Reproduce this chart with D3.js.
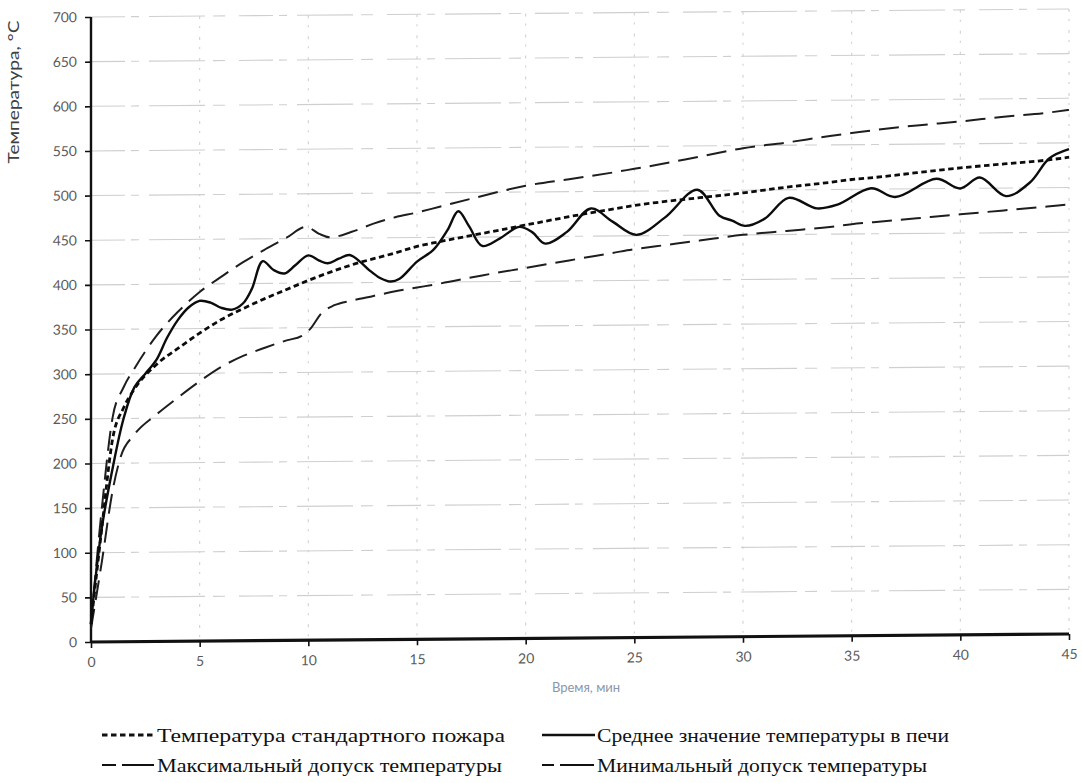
<!DOCTYPE html>
<html>
<head>
<meta charset="utf-8">
<script src="https://cdn.jsdelivr.net/npm/d3@7"></script>
<style>
  body { margin: 0; background: #fff; }
  svg { display: block; }
</style>
</head>
<body>
<svg id="chart" width="1082" height="783"></svg>
<script>
// Standard fire curve, °C vs. minutes
const standardTime = [0, 0.5, 1, 1.5, 2, 3, 4, 5, 6, 7, 8, 9, 10, 12, 14, 15, 16, 18, 20, 22, 24, 25, 26, 28, 30, 32, 34, 35, 36, 38, 40, 42, 44, 45];
const standardTemp = [20, 128, 228, 262, 283, 310, 328, 345, 360, 372, 383, 393, 403, 420, 433, 440, 445, 454, 463, 472, 480, 484, 487, 492, 497, 503, 508, 511, 513, 518, 523, 527, 531, 534];

// Mean furnace temperature
const meanTime = [0, 0.1, 0.5, 1, 1.5, 2, 2.5, 3, 3.5, 4, 4.5, 5, 5.5, 6, 6.5, 7, 7.4, 7.9, 8.4, 8.9, 9.4, 10, 10.5, 10.9, 11.4, 11.9, 12.4, 12.8, 13.3, 13.8, 14.2, 15, 15.75, 16.4, 16.9, 17.4, 18, 18.8, 19.7, 20.3, 20.9, 21.9, 23, 24, 25.1, 26.4, 27.9, 28.9, 29.5, 30.1, 31, 32.1, 33.4, 34.35, 35.9, 37, 38.9, 40, 40.9, 42.1, 43.2, 44.1, 45];
const meanTemp = [20, 47, 128, 195, 250, 285, 300, 315, 340, 360, 374, 381, 379, 373, 371, 378, 394, 425, 415, 411, 420, 431, 425, 422, 427, 431, 423, 414, 405, 401, 404, 423, 436, 458, 479, 462, 440, 448, 461, 455, 442, 455, 481, 466, 451, 470, 501, 472, 466, 460, 468, 491, 479, 483, 501, 491, 511, 500, 512, 491, 506, 533, 543];

// Upper tolerance
const maxTime = [0, 0.5, 1, 1.5, 2, 3, 4, 5, 6, 7, 8, 9, 9.9, 10.5, 11, 12, 13, 14, 15, 16, 18, 20, 22, 24, 25, 26, 28, 30, 32, 34, 35, 36, 38, 40, 42, 44, 45];
const maxTemp = [20, 150, 252, 285, 306, 342, 369, 391, 408, 424, 438, 451, 463, 455, 451, 457, 466, 473, 478, 484, 496, 507, 514, 521, 525, 529, 538, 547, 553, 560, 563, 566, 571, 575, 580, 584, 587];

// Lower tolerance
const minTime = [0, 0.5, 1, 1.35, 2, 3, 4, 5, 6, 7, 8, 9, 9.7, 10.1, 10.6, 11.2, 12, 13, 14, 15, 16, 18, 20, 22, 24, 25, 26, 28, 30, 32, 34, 35, 36, 38, 40, 42, 44, 45];
const minTemp = [15, 90, 170, 206, 232, 254, 273, 291, 307, 319, 328, 336, 341, 349, 366, 375, 380, 385, 390, 394, 398, 407, 415, 423, 431, 435, 438, 444, 450, 454, 458, 461, 463, 467, 471, 475, 479, 481];

const xTicks = [0, 5, 10, 15, 20, 25, 30, 35, 40, 45];
const yTicks = [0, 50, 100, 150, 200, 250, 300, 350, 400, 450, 500, 550, 600, 650, 700];

const legendLabels = [
  "Температура стандартного пожара",
  "Среднее значение температуры в печи",
  "Максимальный  допуск температуры",
  "Минимальный  допуск температуры"
];

const svg = d3.select("#chart");
const plotLeft = 91, plotRight = 1069, plotTop = 17, plotBottom = 642;

const x = d3.scaleLinear().domain([0, 45]).range([plotLeft, plotRight]);
const y = d3.scaleLinear().domain([0, 700]).range([plotBottom, plotTop]);

// the plot sits on a very slightly slanted baseline
const plot = svg.append("g")
  .attr("transform", `translate(${plotLeft},${plotBottom}) skewY(-0.47) translate(${-plotLeft},${-plotBottom})`);

// faint, broken grid
const grid = plot.append("g");
grid.selectAll("line.h").data(yTicks.filter(d => d > 0)).join("line")
  .attr("class", "h")
  .attr("x1", plotLeft).attr("x2", plotRight)
  .attr("y1", d => y(d)).attr("y2", d => y(d))
  .attr("stroke", "#cfcfcf").attr("stroke-width", 1.1)
  .attr("stroke-dasharray", "34,6,8,10,56,8,12,14");
grid.selectAll("line.v").data(xTicks.filter(d => d > 0)).join("line")
  .attr("class", "v")
  .attr("x1", d => x(d)).attr("x2", d => x(d))
  .attr("y1", plotTop).attr("y2", plotBottom)
  .attr("stroke", "#d0d0d0").attr("stroke-width", 1.1)
  .attr("stroke-dasharray", "3,7,2,9");

// axes
const yAxis = plot.append("g")
  .attr("transform", `translate(${plotLeft},0)`)
  .call(d3.axisLeft(y).tickValues(yTicks).tickSize(6).tickPadding(8).tickFormat(d3.format("d")));
const xAxis = plot.append("g")
  .attr("transform", `translate(0,${plotBottom})`)
  .call(d3.axisBottom(x).tickValues(xTicks).tickSize(6).tickPadding(9).tickFormat(d3.format("d")));

yAxis.select(".domain").attr("stroke", "#111").attr("stroke-width", 2.4).attr("d", `M0,${plotTop}V${plotBottom}`);
xAxis.select(".domain").attr("stroke", "#111").attr("stroke-width", 3.2).attr("d", `M${plotLeft},0H${plotRight}`);
[yAxis, xAxis].forEach(a => {
  a.selectAll(".tick line").attr("stroke", "#111").attr("stroke-width", 1.6);
  a.selectAll(".tick text")
    .attr("fill", "#5a5a5a")
    .style("font-family", "Lato, 'Open Sans', sans-serif")
    .style("font-size", "14px");
});

// series
const lineGen = d3.line().x(d => x(d[0])).y(d => y(d[1])).curve(d3.curveMonotoneX);
const zip = (ts, vs) => ts.map((t, i) => [t, vs[i]]);

plot.append("path").datum(zip(minTime, minTemp))
  .attr("d", lineGen).attr("fill", "none")
  .attr("stroke", "#1e1e1e").attr("stroke-width", 2)
  .attr("stroke-dasharray", "20,9");
plot.append("path").datum(zip(maxTime, maxTemp))
  .attr("d", lineGen).attr("fill", "none")
  .attr("stroke", "#1e1e1e").attr("stroke-width", 2)
  .attr("stroke-dasharray", "20,9");
plot.append("path").datum(zip(standardTime, standardTemp))
  .attr("d", lineGen).attr("fill", "none")
  .attr("stroke", "#0c0c0c").attr("stroke-width", 2.8)
  .attr("stroke-dasharray", "5.5,3.5");
plot.append("path").datum(zip(meanTime, meanTemp))
  .attr("d", d3.line().x(d => x(d[0])).y(d => y(d[1])).curve(d3.curveCatmullRom.alpha(0.5)))
  .attr("fill", "none")
  .attr("stroke", "#0c0c0c").attr("stroke-width", 2.4);

// axis titles
svg.append("text")
  .attr("transform", "translate(19,92) rotate(-90)")
  .attr("text-anchor", "middle")
  .attr("fill", "#404040")
  .style("font-family", "Lato, 'Open Sans', sans-serif")
  .style("font-size", "16px")
  .attr("textLength", 143).attr("lengthAdjust", "spacingAndGlyphs")
  .text("Температура, °C");

svg.append("text")
  .attr("x", 586).attr("y", 692)
  .attr("text-anchor", "middle")
  .attr("fill", "#8a97aa")
  .style("font-family", "Lato, 'Open Sans', sans-serif")
  .style("font-size", "13px")
  .text("Время, мин");

// legend
const legendItems = [
  { label: legendLabels[0], x: 102, y: 735, dash: "5.5,3.5", w: 2.8, len: 348 },
  { label: legendLabels[1], x: 542, y: 735, dash: null, w: 2.4, len: 352 },
  { label: legendLabels[2], x: 102, y: 765, dash: "14,6,32", w: 2, len: 345 },
  { label: legendLabels[3], x: 542, y: 765, dash: "12,6,34", w: 2, len: 330 }
];
const lg = svg.append("g");
legendItems.forEach(it => {
  lg.append("line")
    .attr("x1", it.x).attr("x2", it.x + 53)
    .attr("y1", it.y).attr("y2", it.y)
    .attr("stroke", "#111").attr("stroke-width", it.w)
    .attr("stroke-dasharray", it.dash);
  lg.append("text")
    .attr("x", it.x + 55).attr("y", it.y + 7)
    .attr("fill", "#111")
    .style("font-family", "'Liberation Serif', 'DejaVu Serif', serif")
    .style("font-size", "19px")
    .attr("textLength", it.len).attr("lengthAdjust", "spacingAndGlyphs")
    .text(it.label);
});
</script>
</body>
</html>
